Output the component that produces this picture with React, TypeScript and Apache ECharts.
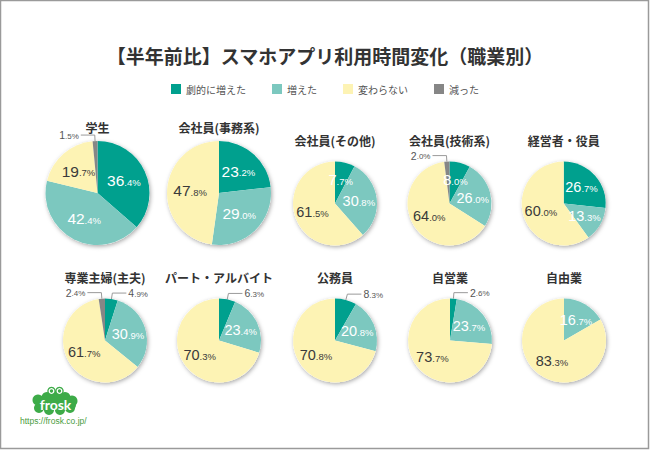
import React, { useEffect, useRef } from "react";
import * as echarts from "echarts";

const mainTitle = "【半年前比】スマホアプリ利用時間変化（職業別）";
const categories = ["劇的に増えた", "増えた", "変わらない", "減った"];
const groups = [
  "学生",
  "会社員(事務系)",
  "会社員(その他)",
  "会社員(技術系)",
  "経営者・役員",
  "専業主婦(主夫)",
  "パート・アルバイト",
  "公務員",
  "自営業",
  "自由業",
];
const dramaticIncrease = [36.4, 23.2, 7.7, 8.0, 26.7, 4.9, 6.3, 8.3, 2.6, 0];
const increased = [42.4, 29.0, 30.8, 26.0, 13.3, 30.9, 23.4, 20.8, 23.7, 16.7];
const unchanged = [19.7, 47.8, 61.5, 64.0, 60.0, 61.7, 70.3, 70.8, 73.7, 83.3];
const decreased = [1.5, 0, 0, 2.0, 0, 2.4, 0, 0, 0, 0];

// which slices carry their label outside with a leader line
const outsideLabels: Record<string, string[]> = {
  学生: ["減った"],
  "会社員(技術系)": ["減った"],
  "専業主婦(主夫)": ["劇的に増えた", "減った"],
  "パート・アルバイト": ["劇的に増えた"],
  公務員: ["劇的に増えた"],
  自営業: ["劇的に増えた"],
};

const colors = ["#00a08e", "#7cc8bf", "#fdf3b4", "#868686"];
const textOnSlice = ["#ffffff", "#ffffff", "#3a3a3a", "#ffffff"];

// layout: pie centre, radius and title baseline
const layout = [
  { cx: 97.5, cy: 193, r: 52, ty: 127 },
  { cx: 219, cy: 193, r: 52, ty: 127 },
  { cx: 335, cy: 203.5, r: 42, ty: 140 },
  { cx: 449.5, cy: 203.5, r: 42, ty: 140 },
  { cx: 563.7, cy: 203.5, r: 42, ty: 140 },
  { cx: 105, cy: 340.5, r: 42, ty: 277 },
  { cx: 219, cy: 340.5, r: 42, ty: 277 },
  { cx: 335, cy: 340.5, r: 42, ty: 277 },
  { cx: 450, cy: 340.5, r: 42, ty: 277 },
  { cx: 564, cy: 340.5, r: 42, ty: 277 },
];

const NUM_FONT = "'Liberation Sans', Arial, sans-serif";
const JP_FONT = "'Noto Sans CJK JP', 'Noto Sans', sans-serif";

export default function App() {
  const ref = useRef<HTMLDivElement>(null);

  useEffect(() => {
    if (!ref.current) return;
    const chart = echarts.init(ref.current, undefined, { renderer: "svg" });
    const seriesValues = [dramaticIncrease, increased, unchanged, decreased];

    const series: any[] = [];
    groups.forEach((g, gi) => {
      const L = layout[gi];
      const big = L.r > 45;
      // shadow disc behind the pie
      series.push({
        type: "pie",
        name: g + "_bg",
        center: [L.cx, L.cy],
        radius: L.r,
        silent: true,
        z: 1,
        label: { show: false },
        labelLine: { show: false },
        itemStyle: {
          color: "#ffffff",
          shadowBlur: 4,
          shadowColor: "rgba(0,0,0,0.35)",
          shadowOffsetX: 1,
          shadowOffsetY: 1.5,
        },
        data: [{ value: 1, name: "_bg" }],
      });
      const outs = outsideLabels[g] || [];
      const data = categories
        .map((c, ci) => ({ c, ci, v: seriesValues[ci][gi] }))
        .filter((d) => d.v > 0)
        .map((d) => {
          const outside = outs.includes(d.c);
          return {
            name: d.c,
            value: d.v,
            itemStyle: { color: colors[d.ci] },
            label: outside
              ? { position: "outside", distanceToLabelLine: 2 }
              : { position: "inside" },
            labelLine: outside
              ? { show: true, length: 6, length2: 14, lineStyle: { color: "#9a9a9a", width: 1 } }
              : { show: false },
          };
        });
      series.push({
        type: "pie",
        name: g,
        center: [L.cx, L.cy],
        radius: L.r,
        startAngle: 90,
        clockwise: true,
        z: 2,
        avoidLabelOverlap: false,
        emphasis: { disabled: true },
        itemStyle: { borderWidth: 0 },
        label: {
          show: true,
          position: "inside",
          formatter: (p: any) => {
            const [ip, dp] = Number(p.value).toFixed(1).split(".");
            const ci = categories.indexOf(p.name);
            if (outs.includes(p.name)) return `{oi|${ip}}{od|.${dp}%}`;
            const k = textOnSlice[ci] === "#ffffff" ? "w" : "k";
            return `{${k}i|${ip}}{${k}d|.${dp}%}`;
          },
          rich: {
            wi: { fontSize: big ? 15.5 : 14.5, color: "#ffffff", fontFamily: NUM_FONT },
            wd: { fontSize: 9.5, color: "#ffffff", fontFamily: NUM_FONT, padding: [3, 0, 0, 0] },
            ki: { fontSize: big ? 15.5 : 14.5, color: "#3a3a3a", fontFamily: NUM_FONT },
            kd: { fontSize: 9.5, color: "#3a3a3a", fontFamily: NUM_FONT, padding: [3, 0, 0, 0] },
            oi: { fontSize: 10.5, color: "#555555", fontFamily: NUM_FONT },
            od: { fontSize: 8, color: "#555555", fontFamily: NUM_FONT, padding: [2, 0, 0, 0] },
          },
        },
        labelLine: { show: false },
        data,
      });
    });

    const titles = groups.map((g, gi) => ({
      type: "text",
      x: layout[gi].cx,
      y: layout[gi].ty,
      style: {
        text: g,
        fontSize: 12,
        fontWeight: "bold",
        fill: "#333333",
        fontFamily: JP_FONT,
        textAlign: "center",
        textVerticalAlign: "middle",
      },
    }));

    const logoGreen = "#3dab48";
    const blobs = [
      [38, 400, 5.5],
      [47, 397.5, 5.5],
      [56, 396.5, 5.5],
      [65, 397.5, 5.5],
      [72, 401, 5.5],
      [39, 408, 5],
      [49, 410, 5],
      [60, 410, 5],
      [70, 408, 5],
    ];

    chart.setOption({
      animation: false,
      backgroundColor: "#ffffff",
      legend: {
        data: categories,
        top: 84,
        left: "center",
        padding: 0,
        icon: "rect",
        itemWidth: 10,
        itemHeight: 10,
        itemGap: 26,
        selectedMode: false,
        textStyle: { fontSize: 10, color: "#555555", fontFamily: JP_FONT },
      },
      graphic: [
        {
          type: "rect",
          shape: { x: 0.5, y: 0.5, width: 648, height: 448 },
          style: { fill: "none", stroke: "#9a9a9a", lineWidth: 1.5 },
          silent: true,
        },
        {
          type: "text",
          x: 325,
          y: 55,
          style: {
            text: mainTitle,
            fontSize: 19,
            fontWeight: "bold",
            fill: "#333333",
            fontFamily: JP_FONT,
            textAlign: "center",
            textVerticalAlign: "middle",
          },
        },
        ...titles,
        {
          type: "group",
          silent: true,
          children: [
            ...blobs.map((b) => ({
              type: "circle",
              shape: { cx: b[0], cy: b[1], r: b[2] },
              style: { fill: logoGreen },
            })),
            { type: "rect", shape: { x: 36, y: 398, width: 40, height: 12, r: 5 }, style: { fill: logoGreen } },
            { type: "circle", shape: { cx: 51.5, cy: 391, r: 4.2 }, style: { fill: logoGreen } },
            { type: "circle", shape: { cx: 59.5, cy: 391, r: 4.2 }, style: { fill: logoGreen } },
            { type: "circle", shape: { cx: 51.5, cy: 391, r: 2.3 }, style: { fill: "none", stroke: "#ffffff", lineWidth: 1.3 } },
            { type: "circle", shape: { cx: 59.5, cy: 391, r: 2.3 }, style: { fill: "none", stroke: "#ffffff", lineWidth: 1.3 } },
            {
              type: "text",
              x: 55.5,
              y: 404,
              style: {
                text: "frosk",
                fontSize: 14,
                fontWeight: "bold",
                fill: "#ffffff",
                fontFamily: "'Lato', 'Noto Sans', sans-serif",
                textAlign: "center",
                textVerticalAlign: "middle",
              },
            },
          ],
        },
        {
          type: "text",
          x: 20,
          y: 421,
          style: {
            text: "https://frosk.co.jp/",
            fontSize: 8.5,
            fill: "#4a9c3e",
            fontFamily: NUM_FONT,
            textAlign: "left",
            textVerticalAlign: "middle",
          },
        },
      ],
      series,
    });

    return () => chart.dispose();
  }, []);

  return (
    <div
      ref={ref}
      style={{ position: "fixed", left: 0, top: 0, width: 650, height: 450, background: "#ffffff" }}
    />
  );
}
